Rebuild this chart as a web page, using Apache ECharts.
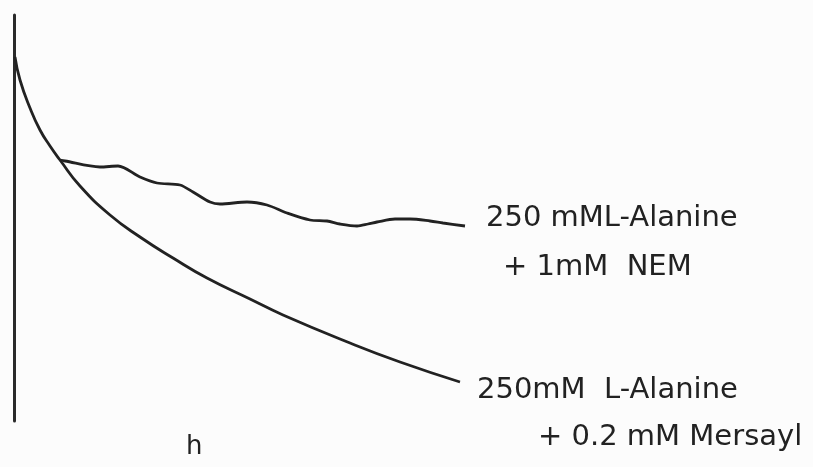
<!DOCTYPE html>
<html>
<head>
<meta charset="utf-8">
<script src="https://cdn.jsdelivr.net/npm/echarts@6/dist/echarts.min.js"></script>
<style>
  html, body { margin: 0; padding: 0; background: #fcfcfc; }
  #main { width: 813px; height: 467px; }
</style>
</head>
<body>
<div id="main"></div>
<script>
// time (arbitrary units) and signal
const mersaylX = [1, 6, 16, 26, 36, 46, 66, 96, 126, 159, 193, 236, 269, 336, 386, 446];
const mersaylY = [364, 341, 313, 291, 275, 261, 235, 206, 184, 163, 143, 122, 106, 78, 59, 39];
const nemX = [46, 51, 86, 104, 126, 143, 166, 179, 196, 206, 233, 253, 273, 296, 313, 326, 343, 354, 363, 381, 396, 416, 429, 451];
const nemY = [261, 260, 254, 255, 244, 238, 236, 229, 219, 217, 219, 216, 208, 201, 200, 197, 195, 197, 199, 202, 202, 200, 198, 195];

const labelNem = ['250 mML-Alanine', '+ 1mM  NEM'];
const labelMersayl = ['250mM  L-Alanine', '+ 0.2 mM Mersayl'];
const xName = 'h';

const pairs = (xs, ys) => xs.map((x, i) => [x, ys[i]]);

const chart = echarts.init(document.getElementById('main'));
const font = '"DejaVu Sans", sans-serif';
const txt = (s, x, y, size) => ({
  type: 'text', x: x, y: y,
  style: { text: s, font: (size || 29) + 'px ' + font, fill: '#222', verticalAlign: 'middle' }
});

chart.setOption({
  animation: false,
  backgroundColor: '#fcfcfc',
  grid: { left: 14, top: 15, width: 460, height: 406 },
  xAxis: { type: 'value', min: 0, max: 460, show: false },
  yAxis: {
    type: 'value', min: 0, max: 406,
    axisLine: { show: true, lineStyle: { color: '#2a2a2a', width: 3 } },
    axisTick: { show: false }, axisLabel: { show: false }, splitLine: { show: false }
  },
  series: [
    {
      type: 'line', data: pairs(mersaylX, mersaylY), smooth: 0.5, symbol: 'none',
      lineStyle: { color: '#222', width: 2.8 }
    },
    {
      type: 'line', data: pairs(nemX, nemY), smooth: 0.3, symbol: 'none',
      lineStyle: { color: '#222', width: 2.8 }
    }
  ],
  graphic: [
    txt(labelNem[0], 486, 218),
    txt(labelNem[1], 503, 267),
    txt(labelMersayl[0], 477, 390),
    txt(labelMersayl[1], 538, 437),
    txt(xName, 186, 447, 26)
  ]
});
</script>
</body>
</html>
